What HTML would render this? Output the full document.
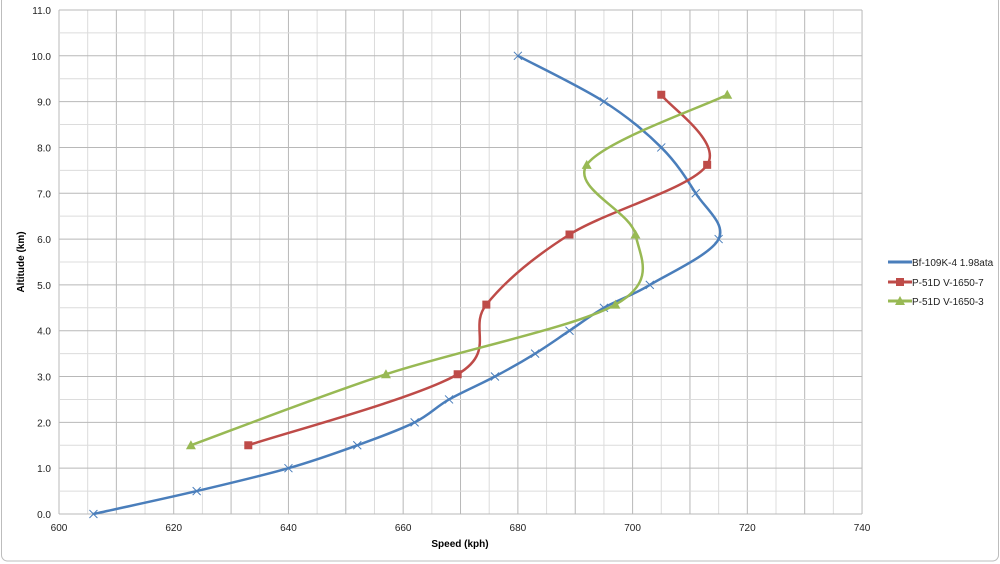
<!DOCTYPE html>
<html><head><meta charset="utf-8"><style>
body{margin:0;background:#fff;}
svg{display:block;font-family:"Liberation Sans",sans-serif;}
</style></head><body>
<svg id="s" width="1000" height="564" xmlns="http://www.w3.org/2000/svg">
<rect x="1.5" y="-5" width="997" height="566" rx="6" fill="#fff" stroke="#bdbdbd"/>
<g id="grid"></g>
<g id="series"></g>
<g font-size="10" fill="#000" font-weight="bold">
<text x="460" y="547" text-anchor="middle">Speed (kph)</text>
<text transform="translate(24,262) rotate(-90)" text-anchor="middle">Altitude (km)</text>
</g>
<g font-size="10" fill="#222">
<line x1="888" y1="262" x2="912" y2="262" stroke="#4a7ebb" stroke-width="3"/>
<text x="912" y="266">Bf-109K-4 1.98ata</text>
<line x1="888" y1="282" x2="912" y2="282" stroke="#be4b48" stroke-width="3"/>
<rect x="896" y="278" width="8" height="8" fill="#be4b48"/>
<text x="912" y="286">P-51D V-1650-7</text>
<line x1="888" y1="301" x2="912" y2="301" stroke="#98b954" stroke-width="3"/>
<polygon points="900,296 905,305 895,305" fill="#98b954"/>
<text x="912" y="305">P-51D V-1650-3</text>
</g>
</svg>
<script>
const NS="http://www.w3.org/2000/svg";
const X=v=>59+(v-600)*5.736, Y=v=>514-v*45.82;
const g=document.getElementById('grid'), se=document.getElementById('series');
function el(t,a,p){const e=document.createElementNS(NS,t);for(const k in a)e.setAttribute(k,a[k]);(p||g).appendChild(e);return e;}
for(let v=600;v<=740;v+=5){const x=X(v);el('line',{x1:x,y1:10,x2:x,y2:514,stroke:v%10==0?'#b8b8b8':'#dcdcdc'});}
for(let i=0;i<=22;i++){const y=Y(i/2);el('line',{x1:59,y1:y,x2:862,y2:y,stroke:i%2==0?'#b8b8b8':'#dcdcdc'});}
for(let v=600;v<=740;v+=20){const t=el('text',{x:X(v),y:531,'text-anchor':'middle','font-size':10,fill:'#222'});t.textContent=v;}
for(let i=0;i<=11;i++){const t=el('text',{x:51,y:Y(i)+4,'text-anchor':'end','font-size':10,fill:'#222'});t.textContent=i.toFixed(1);}
function path(pts,col){
 const P=pts.map(p=>[X(p[0]),Y(p[1])]);let d='M'+P[0];
 for(let i=0;i<P.length-1;i++){const p0=P[i-1]||P[i],p1=P[i],p2=P[i+1],p3=P[i+2]||p2;
 const c1=[p1[0]+(p2[0]-p0[0])/6,p1[1]+(p2[1]-p0[1])/6],c2=[p2[0]-(p3[0]-p1[0])/6,p2[1]-(p3[1]-p1[1])/6];
 d+=' C'+c1+' '+c2+' '+p2;}
 el('path',{d:d,fill:'none',stroke:col,'stroke-width':2.5},se);return P;}
const b=[[606,0],[624,0.5],[640,1],[652,1.5],[662,2],[668,2.5],[676,3],[683,3.5],[689,4],[695,4.5],[703,5],[715,6],[711,7],[705,8],[695,9],[680,10]];
const r=[[633,1.5],[669.5,3.05],[674.5,4.57],[689,6.1],[713,7.62],[705,9.15]];
const gr=[[623,1.5],[657,3.05],[697,4.57],[700.5,6.1],[692,7.62],[716.5,9.15]];
path(b,'#4a7ebb').forEach(p=>{el('path',{d:`M${p[0]-4},${p[1]-4}L${p[0]+4},${p[1]+4}M${p[0]-4},${p[1]+4}L${p[0]+4},${p[1]-4}`,stroke:'#4a7ebb','stroke-width':1},se);});
path(r,'#be4b48').forEach(p=>el('rect',{x:p[0]-4,y:p[1]-4,width:8,height:8,fill:'#be4b48'},se));
path(gr,'#98b954').forEach(p=>el('polygon',{points:`${p[0]},${p[1]-5} ${p[0]+5},${p[1]+4} ${p[0]-5},${p[1]+4}`,fill:'#98b954'},se));
</script>
</body></html>
